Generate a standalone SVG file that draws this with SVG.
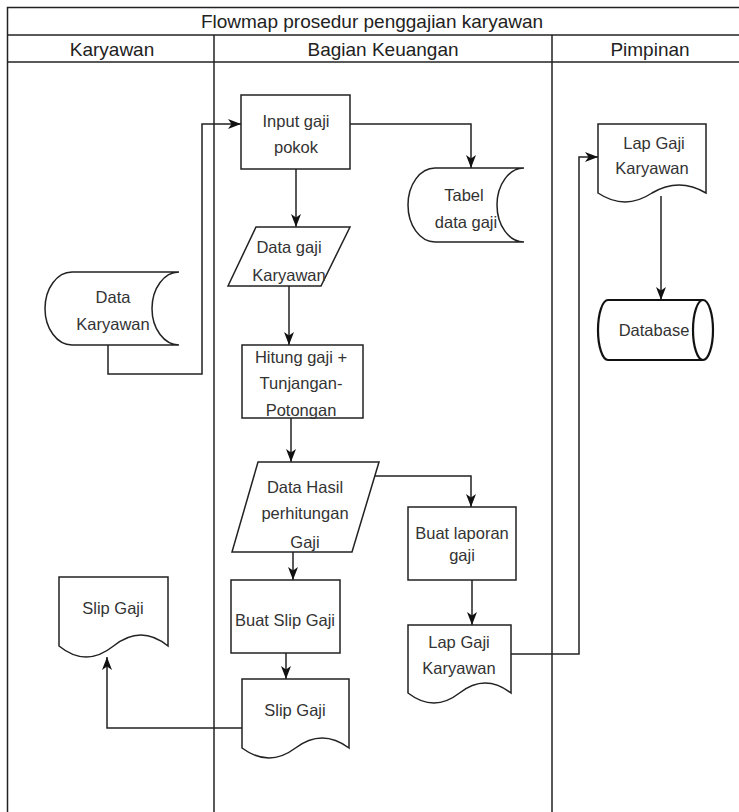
<svg xmlns="http://www.w3.org/2000/svg" width="739" height="812" viewBox="0 0 739 812">
<defs>
<style>
.frame{fill:none;stroke:#222;stroke-width:1.5}
.shape{fill:#fff;stroke:#222;stroke-width:1.5}
.db{fill:#fff;stroke:#111;stroke-width:2.2}
.conn{fill:none;stroke:#222;stroke-width:1.5}
.t{font-family:"Liberation Sans",Arial,sans-serif;font-size:16.5px;fill:#333;text-anchor:middle;dominant-baseline:central}
.h{font-family:"Liberation Sans",Arial,sans-serif;font-size:19px;fill:#222;text-anchor:middle;dominant-baseline:central}
</style>
<marker id="arr" markerUnits="userSpaceOnUse" markerWidth="14" markerHeight="14" viewBox="0 0 14 14" refX="13" refY="7" orient="auto">
<path d="M0,2 L13,7 L0,12 L3.5,7 Z" fill="#111"/>
</marker>
</defs>
<rect width="739" height="812" fill="#fff"/>
<g id="pool">
<rect class="frame" x="7.5" y="7.5" width="745" height="820"/>
<line class="frame" x1="7.5" y1="35" x2="739" y2="35"/>
<line class="frame" x1="7.5" y1="62" x2="739" y2="62"/>
<line class="frame" x1="214" y1="35" x2="214" y2="812"/>
<line class="frame" x1="552" y1="35" x2="552" y2="812"/>
<text class="h" x="372" y="21">Flowmap prosedur penggajian karyawan</text>
<text class="h" x="112" y="49">Karyawan</text>
<text class="h" x="383" y="49">Bagian Keuangan</text>
<text class="h" x="650" y="49">Pimpinan</text>
</g>
<g id="connectors">
<path class="conn" d="M108,345 V374 H202 V124 H241" marker-end="url(#arr)"/>
<path class="conn" d="M350,124 H471 V168" marker-end="url(#arr)"/>
<path class="conn" d="M296,169 V227" marker-end="url(#arr)"/>
<path class="conn" d="M289,286 V345" marker-end="url(#arr)"/>
<path class="conn" d="M291,418 V462" marker-end="url(#arr)"/>
<path class="conn" d="M375,476 H471 V507" marker-end="url(#arr)"/>
<path class="conn" d="M293,552 V580" marker-end="url(#arr)"/>
<path class="conn" d="M472,580 V625" marker-end="url(#arr)"/>
<path class="conn" d="M286,653 V679" marker-end="url(#arr)"/>
<path class="conn" d="M242,728 H107 V657" marker-end="url(#arr)"/>
<path class="conn" d="M511,654 H579 V157 H598" marker-end="url(#arr)"/>
<path class="conn" d="M661,196 V300" marker-end="url(#arr)"/>
</g>
<g id="data-karyawan">
<path class="shape" d="M72,272 L179,272 A27,36.5 0 0 0 179,345 L72,345 A27,36.5 0 0 1 72,272 Z"/>
<text class="t" x="113" y="297">Data</text>
<text class="t" x="113" y="324">Karyawan</text>
</g>
<g id="input-gaji">
<rect class="shape" x="241" y="95" width="109" height="74"/>
<text class="t" x="296" y="121">Input gaji</text>
<text class="t" x="296" y="147">pokok</text>
</g>
<g id="tabel-data-gaji">
<path class="shape" d="M435,168 L524,168 A27,37 0 0 0 524,242 L435,242 A27,37 0 0 1 435,168 Z"/>
<text class="t" x="464" y="195">Tabel</text>
<text class="t" x="466" y="222">data gaji</text>
</g>
<g id="data-gaji-karyawan">
<path class="shape" d="M256,227 L350,227 L321,286 L228,286 Z"/>
<text class="t" x="289" y="247">Data gaji</text>
<text class="t" x="289" y="275">Karyawan</text>
</g>
<g id="hitung-gaji">
<rect class="shape" x="242" y="345" width="121" height="73"/>
<text class="t" x="301" y="357">Hitung gaji +</text>
<text class="t" x="301" y="383">Tunjangan-</text>
<text class="t" x="301" y="410">Potongan</text>
</g>
<g id="data-hasil">
<path class="shape" d="M258,462 L379,462 L352,552 L232,552 Z"/>
<text class="t" x="305" y="487">Data Hasil</text>
<text class="t" x="305" y="513">perhitungan</text>
<text class="t" x="305" y="542">Gaji</text>
</g>
<g id="buat-laporan">
<rect class="shape" x="408" y="507" width="108" height="73"/>
<text class="t" x="462" y="533">Buat laporan</text>
<text class="t" x="462" y="555">gaji</text>
</g>
<g id="lap-gaji-keuangan">
<path class="shape" d="M408,625 H511 V693 Q485,673 459.5,693 Q434,713 408,693 Z"/>
<text class="t" x="459" y="642">Lap Gaji</text>
<text class="t" x="459" y="668">Karyawan</text>
</g>
<g id="buat-slip-gaji">
<rect class="shape" x="231" y="580" width="109" height="73"/>
<text class="t" x="285" y="620">Buat Slip Gaji</text>
</g>
<g id="slip-gaji-keuangan">
<path class="shape" d="M242,679 H349 V748 Q322,728 295.5,748 Q269,768 242,748 Z"/>
<text class="t" x="295" y="710">Slip Gaji</text>
</g>
<g id="slip-gaji-karyawan">
<path class="shape" d="M59,577 H168 V646 Q141,624 113.5,646 Q86,668 59,646 Z"/>
<text class="t" x="113" y="608">Slip Gaji</text>
</g>
<g id="lap-gaji-pimpinan">
<path class="shape" d="M598,124 H706 V193 Q679,177 652,193 Q625,211 598,193 Z"/>
<text class="t" x="654" y="143">Lap Gaji</text>
<text class="t" x="652" y="168">Karyawan</text>
</g>
<g id="database">
<path class="db" d="M608,300 H703 A10,30 0 0 1 703,360 H608 A10,30 0 0 1 608,300 Z"/>
<path class="db" d="M703,300 A10,30 0 0 0 703,360"/>
<text class="t" x="654" y="330">Database</text>
</g>
</svg>
